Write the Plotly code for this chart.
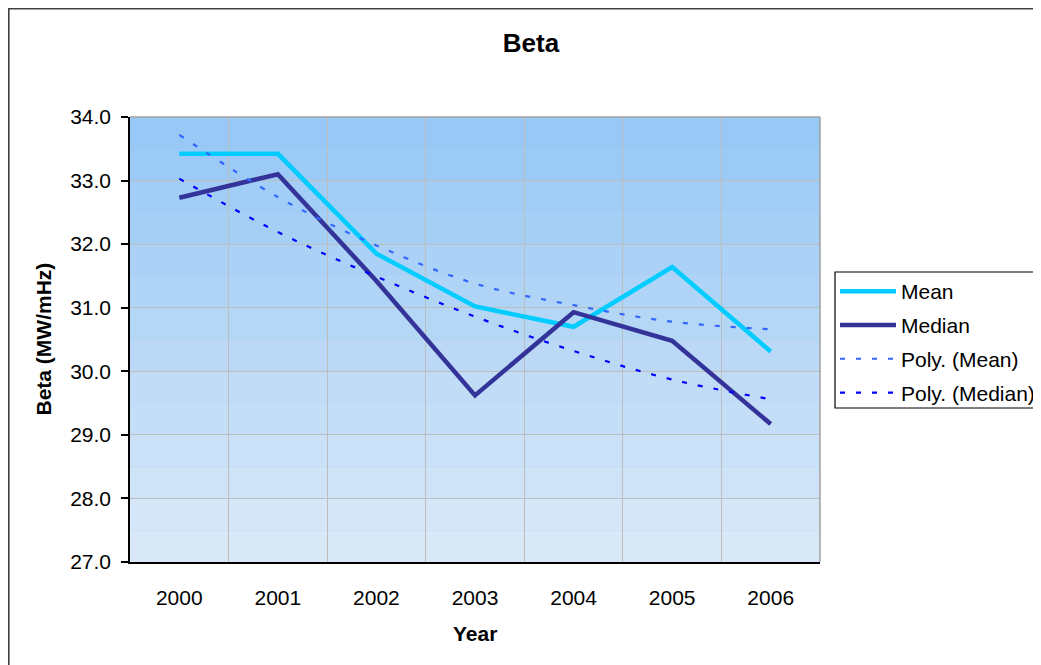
import plotly.graph_objects as go

years = ["2000", "2001", "2002", "2003", "2004", "2005", "2006"]
mean_vals = [33.42, 33.42, 31.85, 31.02, 30.70, 31.64, 30.31]
median_vals = [32.73, 33.10, 31.42, 29.62, 30.93, 30.48, 29.17]
poly_mean_vals = [33.72, 32.74, 31.98, 31.38, 31.04, 30.78, 30.66]
poly_median_vals = [33.03, 32.19, 31.49, 30.86, 30.32, 29.87, 29.56]
y_ticks = [27, 28, 29, 30, 31, 32, 33, 34]

OFF = 8  # page body margin
W, H = 1041 + OFF, 665 + OFF
# plot area in page pixels: x 130..820, y 117..562
L = 130 - OFF
T = 117 - OFF
R = W - (820 - OFF)
B = H - (562 - OFF)
pw, ph = W - L - R, H - T - B


def px_x(p):
    return (p - OFF - L) / pw


def px_y(p):
    return (H - B - (p - OFF)) / ph


FONT = "Liberation Sans, Arial, sans-serif"

fig = go.Figure()
fig.add_trace(go.Scatter(x=years, y=mean_vals, mode="lines", name="Mean",
                         line=dict(color="#00CCFF", width=4.5), legendgroup="a"))
fig.add_trace(go.Scatter(x=years, y=median_vals, mode="lines", name="Median",
                         line=dict(color="#333399", width=4.5), legendgroup="b"))
fig.add_trace(go.Scatter(x=years, y=poly_mean_vals, mode="lines", name="Poly. (Mean)",
                         line=dict(color="#3366FF", width=2.2, dash="5px,11px", shape="spline"),
                         legendgroup="c"))
fig.add_trace(go.Scatter(x=years, y=poly_median_vals, mode="lines", name="Poly. (Median)",
                         line=dict(color="#0000FF", width=2.2, dash="5px,11px", shape="spline"),
                         legendgroup="d"))

shapes = []
# banded gradient background
n = 14
top = (151, 200, 246)
bot = (217, 232, 247)
for i in range(n):
    t = i / (n - 1)
    c = tuple(int(round(top[k] + (bot[k] - top[k]) * t)) for k in range(3))
    shapes.append(dict(type="rect", xref="paper", yref="paper",
                       x0=0, x1=1, y0=1 - (i + 1) / n, y1=1 - i / n,
                       fillcolor="rgb(%d,%d,%d)" % c, line=dict(width=0), layer="below"))
# grey top / right plot border
shapes.append(dict(type="line", xref="paper", yref="paper", x0=0, x1=1, y0=1, y1=1,
                   line=dict(color="#A0A0A0", width=1.5)))
shapes.append(dict(type="line", xref="paper", yref="paper", x0=1, x1=1, y0=0, y1=1,
                   line=dict(color="#A0A0A0", width=1.5)))
# outer chart border (left/top edges visible, right/bottom run off the page)
shapes.append(dict(type="rect", xref="paper", yref="paper",
                   x0=px_x(OFF + 0.8), x1=px_x(1100), y0=px_y(720), y1=px_y(OFF + 0.8),
                   line=dict(color="#404040", width=1.6), fillcolor="rgba(0,0,0,0)"))
# legend frame (runs off the right edge of the page)
shapes.append(dict(type="rect", xref="paper", yref="paper",
                   x0=px_x(835), x1=px_x(1100), y0=px_y(408), y1=px_y(272),
                   line=dict(color="black", width=1.2), fillcolor="white", layer="below"))

annotations = [
    dict(text="<b>Year</b>", xref="paper", yref="paper", x=0.5, y=px_y(633),
         xanchor="center", yanchor="middle", showarrow=False,
         font=dict(family=FONT, size=21, color="black")),
    dict(text="<b>Beta (MW/mHz)</b>", xref="paper", yref="paper", x=px_x(43), y=0.5,
         xanchor="center", yanchor="middle", showarrow=False, textangle=-90,
         font=dict(family=FONT, size=21, color="black")),
]

fig.update_layout(
    width=W, height=H,
    margin=dict(l=L, r=R, t=T, b=B, pad=0),
    paper_bgcolor="white",
    plot_bgcolor="rgb(151,200,246)",
    title=dict(text="<b>Beta</b>", x=(531 - OFF) / W, xref="container", xanchor="center",
               y=1 - (43 - OFF) / H, yref="container", yanchor="middle",
               font=dict(family=FONT, size=26, color="black")),
    font=dict(family=FONT, size=21, color="black"),
    xaxis=dict(type="category", tickson="boundaries", showgrid=True,
               gridcolor="#BDBDBD", gridwidth=1.2, ticks="", showline=True,
               linecolor="black", linewidth=1.5, ticklabelstandoff=16,
               tickfont=dict(family=FONT, size=21, color="black"),
               range=[-0.5, 6.5], zeroline=False),
    yaxis=dict(range=[27, 34], tickvals=y_ticks, tickformat=".1f",
               showgrid=True, gridcolor="#BDBDBD", gridwidth=1.2,
               ticks="outside", ticklen=7, tickcolor="black", tickwidth=1.5,
               showline=True, linecolor="black", linewidth=1.5,
               ticklabelstandoff=6, zeroline=False,
               tickfont=dict(family=FONT, size=21, color="black")),
    legend=dict(xref="container", yref="container",
                x=(835 - OFF) / W, y=1 - (271 - OFF) / H, xanchor="left", yanchor="top",
                bgcolor="rgba(0,0,0,0)", borderwidth=0,
                font=dict(family=FONT, size=21, color="black"),
                itemwidth=56, tracegroupgap=3.5, traceorder="grouped"),
    shapes=shapes,
    annotations=annotations,
    showlegend=True,
)

fig.write_html("out.html")
